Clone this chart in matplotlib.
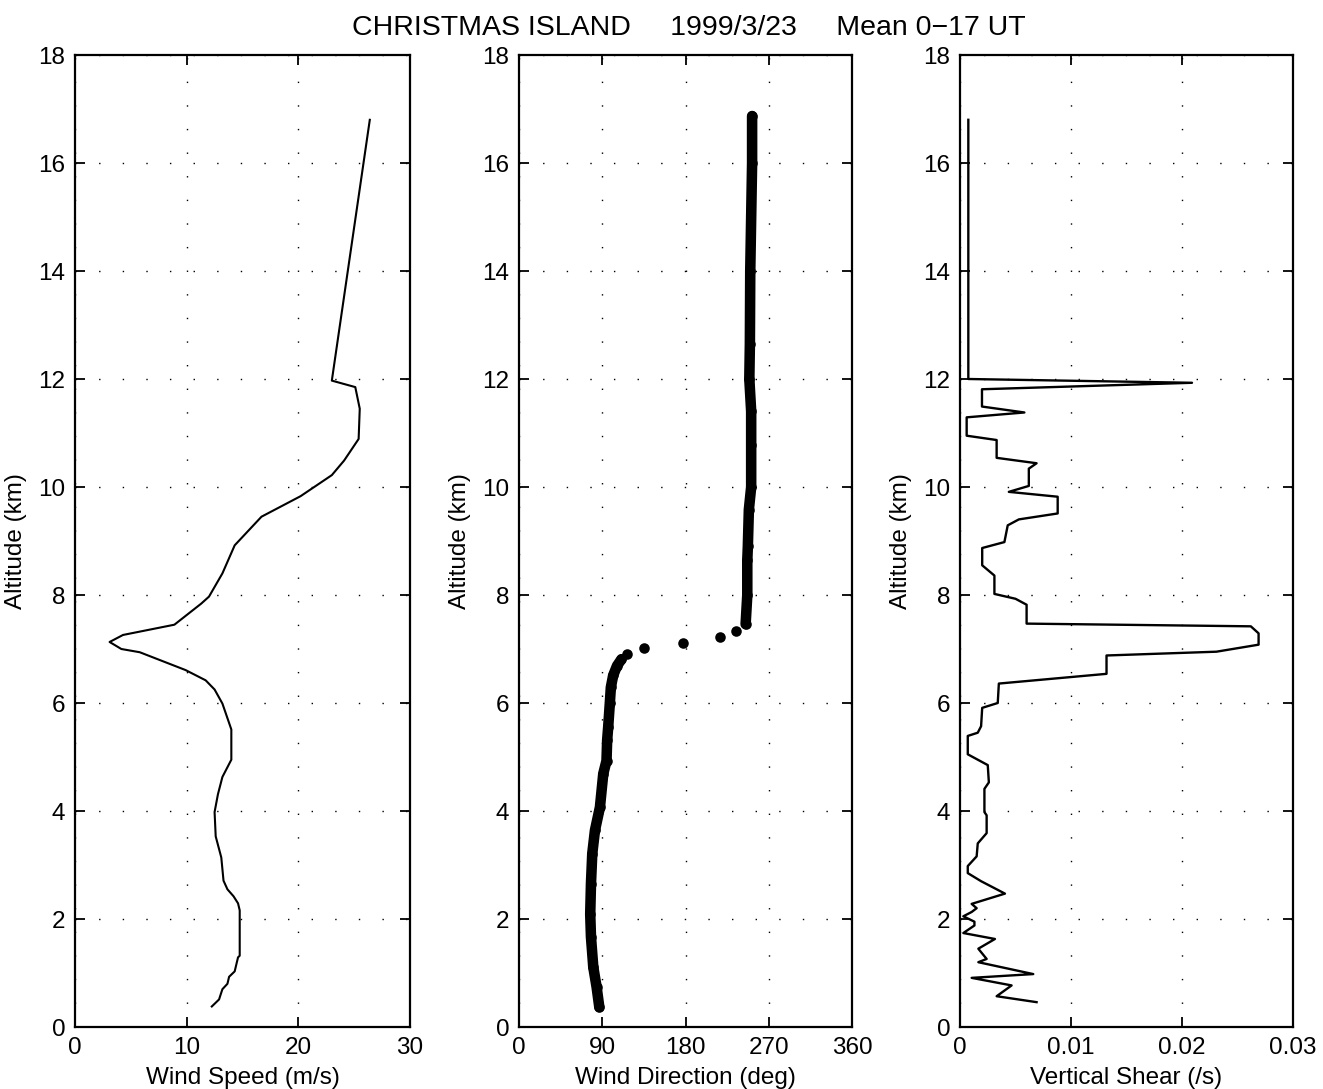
import numpy as np
import matplotlib.pyplot as plt

plt.rcParams['font.family'] = ['Liberation Sans', 'DejaVu Sans']

# wind speed profile
speed_alt = [0.38, 0.51, 0.70, 0.80, 0.93, 1.03, 1.29, 1.32, 2.16, 2.29, 2.42, 2.55,
             2.71, 3.14, 3.53, 3.98, 4.31, 4.63, 4.95, 5.51, 5.99, 6.25, 6.42, 6.61,
             6.94, 7.00, 7.13, 7.26, 7.45, 7.84, 7.97, 8.40, 8.92, 9.45, 9.83, 10.22,
             10.49, 10.89, 11.45, 11.85, 11.97, 16.80]
speed = [12.25, 12.9, 13.2, 13.65, 13.8, 14.3, 14.6, 14.75, 14.75, 14.6, 14.2, 13.65,
         13.3, 13.1, 12.6, 12.5, 12.8, 13.2, 14.0, 14.0, 13.2, 12.5, 11.7, 9.9,
         5.8, 4.15, 3.1, 4.3, 8.9, 11.3, 12.0, 13.2, 14.3, 16.7, 20.2, 23.0,
         24.1, 25.4, 25.5, 25.1, 23.0, 26.4]

# wind direction profile
dir_alt = [0.37, 0.74, 1.11, 1.67, 2.09, 2.65, 3.21, 3.64, 4.07, 4.69, 4.93, 5.31,
           5.55, 6.00, 6.29, 6.51, 6.69, 6.81, 6.91, 7.02, 7.12, 7.23, 7.33, 7.46,
           8.00, 8.64, 8.90, 9.58, 10.00, 10.77, 11.40, 12.00, 12.65, 14.00, 16.00, 16.87]
direction = [86.8, 83.9, 80.3, 77.8, 77.0, 77.8, 79.2, 82.1, 87.5, 91.1, 94.6, 95.3,
             96.4, 98.2, 99.3, 101.8, 106.0, 110.8, 117.0, 134.7, 177.0, 217.0, 235.0, 245.0,
             246.8, 246.8, 247.4, 248.5, 251.0, 251.0, 251.0, 249.0, 249.6, 250.0, 252.0, 252.0]

# vertical shear profile
shear_alt = [16.80, 12.00, 11.93, 11.81, 11.49, 11.38, 11.29, 10.95, 10.87, 10.54,
             10.44, 10.34, 10.02, 9.91, 9.82, 9.51, 9.40, 9.29, 8.98, 8.87,
             8.55, 8.36, 8.02, 7.93, 7.82, 7.47, 7.42, 7.29, 7.08, 6.95,
             6.88, 6.54, 6.36, 6.00, 5.91, 5.57, 5.45, 5.39, 5.05, 4.85,
             4.53, 4.41, 3.98, 3.92, 3.59, 3.40, 3.16, 2.98, 2.85, 2.70,
             2.47, 2.28, 2.20, 2.13, 2.05, 1.95, 1.88, 1.74, 1.63, 1.45,
             1.26, 1.20, 0.98, 0.91, 0.77, 0.57, 0.46]
shear = [0.75, 0.75, 20.9, 1.98, 1.98, 5.8, 0.6, 0.6, 3.3, 3.3,
         6.9, 6.2, 6.2, 4.4, 8.8, 8.8, 5.3, 4.3, 4.0, 2.0,
         2.0, 3.1, 3.1, 5.0, 6.0, 6.0, 26.2, 26.9, 26.9, 23.1,
         13.2, 13.2, 3.5, 3.4, 2.0, 1.9, 1.6, 0.7, 0.7, 2.5,
         2.6, 2.2, 2.2, 2.4, 2.4, 1.6, 1.5, 0.7, 0.7, 1.9,
         4.05, 1.05, 1.5, 1.05, 0.3, 1.3, 1.3, 0.3, 3.15, 1.65,
         2.4, 1.65, 6.6, 1.05, 4.65, 3.3, 6.9]  # x 1e-3 /s

W, H = 1323, 1089
fig = plt.figure(figsize=(W / 100, H / 100), dpi=100)


def make_ax(x0, x1):
    ax = fig.add_axes([x0 / W, 1 - 1027 / H, (x1 - x0) / W, (1027 - 55) / H])
    ax.set_ylim(0, 18)
    ax.set_yticks(np.arange(0, 19, 2))
    ax.tick_params(direction='in', length=7, width=1.3, top=True, right=True,
                   labelsize=17.5, pad=7)
    for s in ax.spines.values():
        s.set_linewidth(1.6)
    ax.grid(True, color='black', linestyle=(0, (1, 16)), linewidth=1.0)
    ax.set_ylabel('Altitude (km)', fontsize=17.5, labelpad=8)
    return ax


ax1 = make_ax(75, 410)
ax1.plot(speed, speed_alt, color='black', lw=1.5)
ax1.set_xlim(0, 30)
ax1.set_xticks([0, 10, 20, 30])
ax1.set_xlabel('Wind Speed (m/s)', fontsize=17.5, labelpad=6)

ax2 = make_ax(519, 852)
da = np.array(dir_alt)
dd = np.array(direction)
low = da <= 6.81
high = da >= 7.46
ax2.plot(dd[low], da[low], color='black', lw=7.6, solid_capstyle='round')
ax2.plot(dd[high], da[high], color='black', lw=7.6, solid_capstyle='round')
ax2.plot(dd, da, 'o', color='black', ms=7.6, mew=0)
ax2.set_xlim(0, 360)
ax2.set_xticks([0, 90, 180, 270, 360])
ax2.set_xlabel('Wind Direction (deg)', fontsize=17.5, labelpad=6)

ax3 = make_ax(960, 1293)
ax3.plot(np.array(shear) * 1e-3, shear_alt, color='black', lw=1.7)
ax3.set_xlim(0, 0.03)
ax3.set_xticks([0, 0.01, 0.02, 0.03])
ax3.set_xticklabels(['0', '0.01', '0.02', '0.03'])
ax3.set_xlabel('Vertical Shear (/s)', fontsize=17.5, labelpad=6)

fig.text(689 / W, 1 - 28 / H, 'CHRISTMAS ISLAND     1999/3/23     Mean 0\u221217 UT',
         ha='center', va='center', fontsize=20.5)

fig.savefig('out.png', dpi=100)
